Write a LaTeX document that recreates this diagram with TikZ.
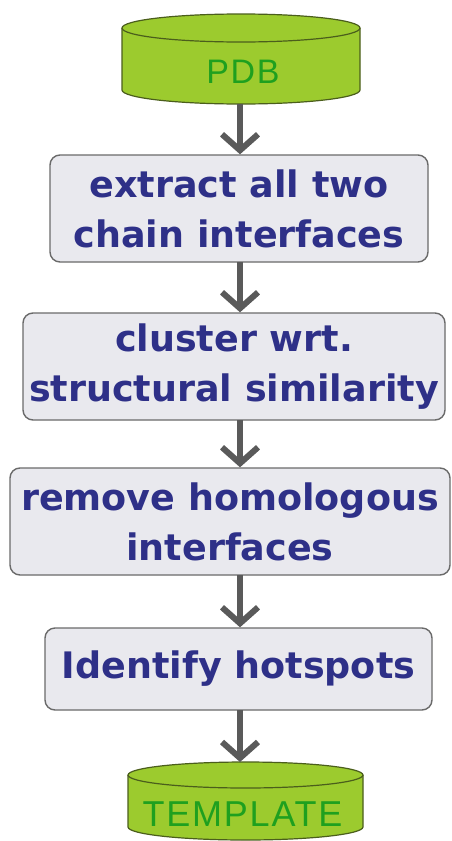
\documentclass[tikz,border=0pt]{standalone}
\usepackage{fontspec}
\setmainfont{DejaVu Sans}
\newfontfamily\cylfont[LetterSpace=5]{Liberation Sans}
\usetikzlibrary{arrows.meta}
\definecolor{navy}{HTML}{2E3088}
\definecolor{boxfill}{HTML}{E9E9EE}
\definecolor{boxline}{HTML}{6A6A6A}
\definecolor{cylfill}{HTML}{9CCB2E}
\definecolor{cylline}{HTML}{4B5E1C}
\definecolor{cyltext}{HTML}{1FA01F}
\definecolor{arrowgray}{HTML}{5A5A5A}
\tikzset{
  stepbox/.style={draw=boxline, line width=1.4pt, fill=boxfill, rounded corners=10pt,
    align=center, text=navy, inner sep=0pt,
    font=\bfseries\fontsize{36.5}{50}\selectfont},
  cyllabel/.style={text=cyltext, inner sep=0pt, font=\cylfont\fontsize{34}{40}\selectfont},
  cylbody/.style={draw=cylline, line width=1.2pt, fill=cylfill},
  flow/.style={draw=arrowgray, line width=6pt,
    -{Straight Barb[length=16pt,width=36pt,line width=6pt]}}
}
\begin{document}
\begin{tikzpicture}[x=1pt,y=-1pt]
\useasboundingbox[fill=white] (0,0) rectangle (451,841);
% PDB cylinder
\fill[cylfill] (122,28) -- (122,90) arc[start angle=180,end angle=360,x radius=119pt,y radius=14pt] -- (360,28) -- cycle;
\draw[cylline, line width=1.2pt] (122,28) -- (122,90) arc[start angle=180,end angle=360,x radius=119pt,y radius=14pt] -- (360,28);
\draw[cylbody] (241,28) ellipse[x radius=119pt, y radius=14pt];
\node[cyllabel] (pdb) at (243,72) {PDB};
\coordinate (pdbbot) at (240,104);
% boxes
\node[stepbox, minimum width=378pt, minimum height=107pt] (b1) at (239,208.5) {extract all two\\chain interfaces};
\node[stepbox, minimum width=422pt, minimum height=107pt] (b2) at (234,366.5) {cluster wrt.\\structural similarity};
\node[stepbox, minimum width=440pt, minimum height=107pt] (b3) at (230,521.5) {remove homologous\\interfaces};
\node[stepbox, minimum width=387pt, minimum height=82pt] (b4) at (238.5,669) {Identify hotspots};
% TEMPLATE cylinder
\fill[cylfill] (128,775) -- (128,827) arc[start angle=180,end angle=360,x radius=117.5pt,y radius=13pt] -- (363,775) -- cycle;
\draw[cylline, line width=1.2pt] (128,775) -- (128,827) arc[start angle=180,end angle=360,x radius=117.5pt,y radius=13pt] -- (363,775);
\draw[cylbody] (245.5,775) ellipse[x radius=117.5pt, y radius=13pt];
\node[cyllabel, font=\cylfont\fontsize{36}{40}\selectfont] (tmpl) at (242.5,814) {TEMPLATE};
\coordinate (tmpltop) at (240,762);
% arrows
\draw[flow] (pdbbot) -- (pdbbot |- b1.north);
\draw[flow] (240,262) coordinate (a1) (a1) -- (a1 |- b2.north);
\draw[flow] (240,420) coordinate (a2) (a2) -- (a2 |- b3.north);
\draw[flow] (240,575) coordinate (a3) (a3) -- (a3 |- b4.north);
\draw[flow] (240,710) coordinate (a4) (a4) -- (tmpltop);
\end{tikzpicture}
\end{document}
